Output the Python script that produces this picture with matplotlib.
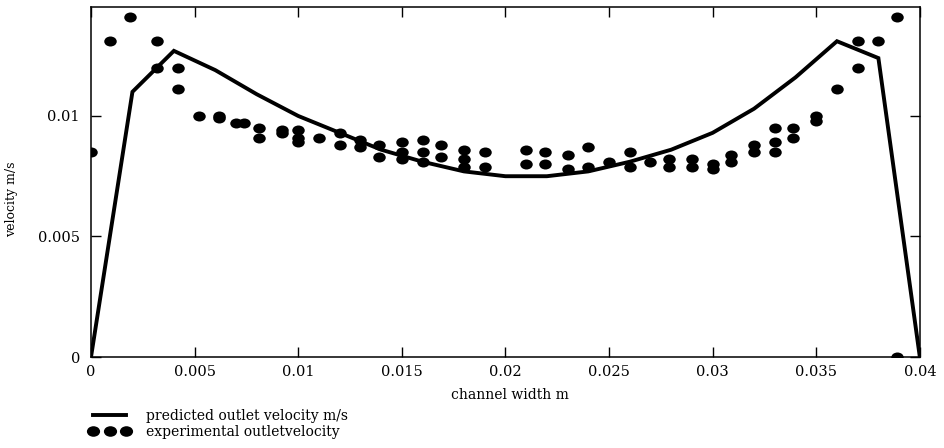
import matplotlib.pyplot as plt
from matplotlib.lines import Line2D
from matplotlib.path import Path
from matplotlib.transforms import Affine2D

plt.switch_backend('agg')

# ---------------------------------------------
#   Data
# ---------------------------------------------
# predicted outlet velocity (model), every 2 mm across the channel
pred_x = [0.000, 0.002, 0.004, 0.006, 0.008, 0.010, 0.012, 0.014, 0.016, 0.018, 0.020,
          0.022, 0.024, 0.026, 0.028, 0.030, 0.032, 0.034, 0.036, 0.038, 0.040]
pred_v = [0.0000, 0.0110, 0.0127, 0.0119, 0.0109, 0.0100, 0.0093, 0.0086, 0.0081, 0.0077, 0.0075,
          0.0075, 0.0077, 0.0081, 0.0086, 0.0093, 0.0103, 0.0116, 0.0131, 0.0124, 0.0000]

# measured outlet velocity (repeat readings at each station)
exp_x = [0.0000, 0.0009, 0.0019, 0.0032, 0.0032, 0.0042, 0.0042, 0.0052, 0.0062, 0.0062,
         0.0070, 0.0074, 0.0081, 0.0081, 0.0092, 0.0092, 0.0100, 0.0100, 0.0100, 0.0110,
         0.0120, 0.0120, 0.0130, 0.0130, 0.0139, 0.0139, 0.0150, 0.0150, 0.0150,
         0.0160, 0.0160, 0.0160, 0.0169, 0.0169, 0.0180, 0.0180, 0.0180, 0.0190, 0.0190,
         0.0210, 0.0210, 0.0219, 0.0219, 0.0230, 0.0230, 0.0240, 0.0240, 0.0250,
         0.0260, 0.0260, 0.0270, 0.0279, 0.0279, 0.0290, 0.0290, 0.0300, 0.0300,
         0.0309, 0.0309, 0.0320, 0.0320, 0.0330, 0.0330, 0.0330, 0.0339, 0.0339,
         0.0350, 0.0350, 0.0360, 0.0370, 0.0370, 0.0380, 0.0389, 0.0389]
exp_v = [0.0085, 0.0131, 0.0141, 0.0131, 0.0120, 0.0120, 0.0111, 0.0100, 0.0100, 0.0099,
         0.0097, 0.0097, 0.0095, 0.0091, 0.0094, 0.0093, 0.0094, 0.0091, 0.0089, 0.0091,
         0.0093, 0.0088, 0.0090, 0.0087, 0.0088, 0.0083, 0.0089, 0.0085, 0.0082,
         0.0090, 0.0085, 0.0081, 0.0088, 0.0083, 0.0086, 0.0082, 0.0079, 0.0085, 0.0079,
         0.0086, 0.0080, 0.0085, 0.0080, 0.0084, 0.0078, 0.0087, 0.0079, 0.0081,
         0.0085, 0.0079, 0.0081, 0.0082, 0.0079, 0.0082, 0.0079, 0.0080, 0.0078,
         0.0084, 0.0081, 0.0088, 0.0085, 0.0095, 0.0089, 0.0085, 0.0095, 0.0091,
         0.0100, 0.0098, 0.0111, 0.0131, 0.0120, 0.0131, 0.0141, 0.0000]

x_ticks = [0, 0.005, 0.01, 0.015, 0.02, 0.025, 0.03, 0.035, 0.04]
x_tick_labels = ['0', '0.005', '0.01', '0.015', '0.02', '0.025', '0.03', '0.035', '0.04']
y_ticks = [0, 0.005, 0.01]
y_tick_labels = ['0', '0.005', '0.01']

# ---------------------------------------------
#   Plotting
# ---------------------------------------------
plt.rcParams['font.family'] = ['DejaVu Serif']

fig = plt.figure(figsize=(9.44, 4.48), dpi=100)
ax = fig.add_axes([0.0964, 0.2031, 0.878, 0.7813])

# slightly flattened round dot
dot = Path.unit_circle().transformed(Affine2D().scale(1.0, 0.8))

ax.plot(pred_x, pred_v, color='black', lw=2.8, solid_joinstyle='miter')
ax.plot(exp_x, exp_v, linestyle='none', marker=dot, markersize=9,
        color='black', markeredgewidth=0)

ax.set_xlim(0, 0.04)
ax.set_ylim(0, 0.01452)
ax.set_xticks(x_ticks)
ax.set_xticklabels(x_tick_labels)
ax.set_yticks(y_ticks)
ax.set_yticklabels(y_tick_labels)

ax.tick_params(direction='in', length=7, width=1.0, top=True, right=True,
               labelsize=10.5, colors='black')
ax.tick_params(axis='x', pad=6)
ax.tick_params(axis='y', pad=8)
for sp in ax.spines.values():
    sp.set_linewidth(1.1)

ax.set_xlabel('channel width m', fontsize=10)
ax.xaxis.set_label_coords(0.505, -0.089)
ax.set_ylabel('velocity m/s', fontsize=9)
ax.yaxis.set_label_coords(-0.088, 0.45)

# legend below the axes
handles = [Line2D([], [], color='black', lw=2.8),
           Line2D([], [], linestyle='none', marker=dot, markersize=9.5,
                  color='black', markeredgewidth=0)]
labels = ['predicted outlet velocity m/s', 'experimental outletvelocity']
fig.legend(handles, labels, loc='upper left', bbox_to_anchor=(0.094, 0.087),
           bbox_transform=fig.transFigure, frameon=False, numpoints=3,
           handlelength=3.0, handletextpad=1.1, labelspacing=0.15, borderpad=0,
           borderaxespad=0, fontsize=10)

plt.savefig('out.png', dpi=100)
plt.close()
